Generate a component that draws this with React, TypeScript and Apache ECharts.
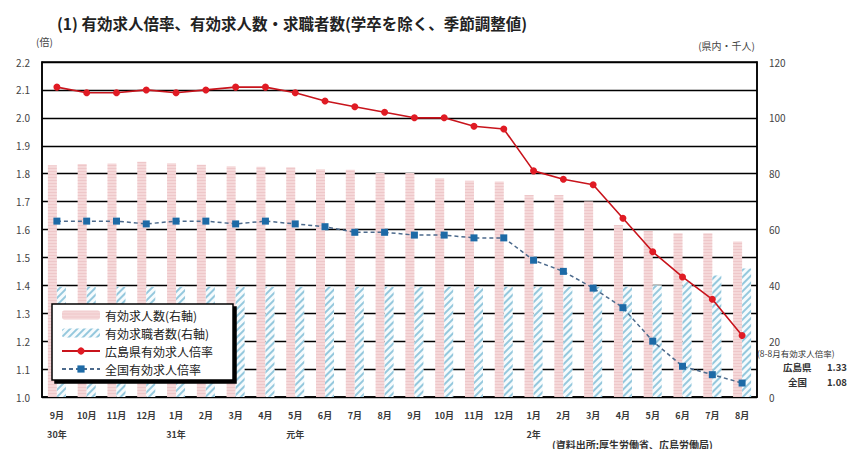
import React, { useEffect, useRef } from "react";
import * as echarts from "echarts";

// 月別の軸ラベル(30年9月〜2年8月)
const months = [
  "9月", "10月", "11月", "12月", "1月", "2月", "3月", "4月",
  "5月", "6月", "7月", "8月", "9月", "10月", "11月", "12月",
  "1月", "2月", "3月", "4月", "5月", "6月", "7月", "8月",
];
const years = [
  "30年", "", "", "", "31年", "", "", "", "元年", "", "", "", "", "", "", "",
  "2年", "", "", "", "", "", "", "",
];

// 有効求人数・有効求職者数(県内、千人)
const jobOffers = [
  83, 83.5, 83.6, 84.3, 83.7, 83.2, 82.7, 82.5, 82.3, 81.6, 81.4, 80.2,
  80.2, 78.4, 77.5, 77.2, 72.4, 72.4, 70, 61.6, 59.5, 58.7, 58.7, 55.7,
];
const jobSeekers = [
  39.5, 39.5, 39.5, 39.5, 39.5, 39.5, 39.5, 39.5, 39.5, 39.5, 39.5, 39.5,
  39.5, 39.5, 39.5, 39.5, 39.5, 39.5, 39.5, 39.5, 40, 41.5, 43.5, 46,
];

// 有効求人倍率(倍)
const hiroshimaRatio = [
  2.11, 2.09, 2.09, 2.1, 2.09, 2.1, 2.11, 2.11, 2.09, 2.06, 2.04, 2.02,
  2.0, 2.0, 1.97, 1.96, 1.81, 1.78, 1.76, 1.64, 1.52, 1.43, 1.35, 1.22,
];
const nationalRatio = [
  1.63, 1.63, 1.63, 1.62, 1.63, 1.63, 1.62, 1.63, 1.62, 1.61, 1.59, 1.59,
  1.58, 1.58, 1.57, 1.57, 1.49, 1.45, 1.39, 1.32, 1.2, 1.11, 1.08, 1.05,
];

// 8月の有効求人倍率(注記)
const noteRegions = ["広島県", "全国"];
const noteValues = ["1.33", "1.08"];

const FONT = '"Noto Sans CJK JP", "Noto Sans", sans-serif';

export default function App() {
  const ref = useRef<HTMLDivElement>(null);

  useEffect(() => {
    if (!ref.current) return;
    const chart = echarts.init(ref.current, undefined, { renderer: "svg" });

    const noteTexts: any[] = [];
    noteRegions.forEach((name, i) => {
      noteTexts.push({
        type: "text",
        left: i === 0 ? 783 : 788,
        top: 362 + i * 15,
        style: { text: name, font: `bold 9.5px ${FONT}`, fill: "#333" },
      });
      noteTexts.push({
        type: "text",
        left: 827,
        top: 362 + i * 15,
        style: { text: noteValues[i], font: `bold 9.5px ${FONT}`, fill: "#333" },
      });
    });

    chart.setOption({
      animation: false,
      backgroundColor: "#ffffff",
      textStyle: { fontFamily: FONT },
      title: {
        text: "(1) 有効求人倍率、有効求人数・求職者数(学卒を除く、季節調整値)",
        left: 52,
        top: 10,
        textStyle: { fontFamily: FONT, fontSize: 15.5, fontWeight: "bold", color: "#222" },
      },
      grid: {
        left: 42,
        right: 98,
        top: 62,
        bottom: 60,
        show: true,
        borderColor: "#000",
        borderWidth: 1.5,
        backgroundColor: "transparent",
      },
      legend: {
        orient: "vertical",
        left: 52,
        top: 304,
        width: 188,
        itemWidth: 38,
        itemHeight: 9,
        itemGap: 6,
        padding: [5, 20, 5, 9],
        backgroundColor: "#fff",
        borderColor: "#000",
        borderWidth: 1.5,
        shadowColor: "#000",
        shadowOffsetX: 3,
        shadowOffsetY: 3,
        shadowBlur: 0,
        textStyle: { fontFamily: FONT, fontSize: 12, color: "#222" },
        data: ["有効求人数(右軸)", "有効求職者数(右軸)", "広島県有効求人倍率", "全国有効求人倍率"],
      },
      xAxis: {
        type: "category",
        data: months,
        axisLine: { show: true, lineStyle: { color: "#000", width: 1.5 } },
        axisTick: { show: false },
        axisLabel: {
          interval: 0,
          margin: 9,
          fontSize: 9,
          fontWeight: "bold",
          color: "#3a3a3a",
          lineHeight: 19,
          formatter: (v: string, i: number) => `${v}\n${years[i]}`,
        },
      },
      yAxis: [
        {
          type: "value",
          min: 1.0,
          max: 2.2,
          interval: 0.1,
          axisLine: { show: true, lineStyle: { color: "#000", width: 1.5 } },
          axisTick: { show: false },
          axisLabel: {
            margin: 12,
            fontSize: 10,
            color: "#444",
            formatter: (v: number) => v.toFixed(1),
          },
          splitLine: { show: true, lineStyle: { color: "#000", width: 1.4 } },
        },
        {
          type: "value",
          min: 0,
          max: 120,
          interval: 20,
          position: "right",
          axisLine: { show: true, lineStyle: { color: "#000", width: 1.5 } },
          axisTick: { show: false },
          axisLabel: { margin: 12, fontSize: 10, color: "#444" },
          splitLine: { show: false },
        },
      ],
      series: [
        {
          name: "有効求人数(右軸)",
          type: "bar",
          yAxisIndex: 1,
          data: jobOffers,
          barWidth: 9,
          barGap: "0%",
          itemStyle: {
            color: "#f5d8d9",
            decal: {
              symbol: "rect",
              symbolSize: 1,
              color: "rgba(225,165,170,0.35)",
              dashArrayX: [1, 0],
              dashArrayY: [1, 2],
              rotation: 0,
            },
          },
          z: 2,
        },
        {
          name: "有効求職者数(右軸)",
          type: "bar",
          yAxisIndex: 1,
          data: jobSeekers,
          barWidth: 9,
          barGap: "0%",
          itemStyle: {
            color: "#f6fbfd",
            decal: {
              symbol: "rect",
              symbolSize: 1,
              color: "#95c8dd",
              dashArrayX: [1, 0],
              dashArrayY: [1.5, 3],
              rotation: -Math.PI / 4,
            },
          },
          z: 2,
        },
        {
          name: "広島県有効求人倍率",
          type: "line",
          yAxisIndex: 0,
          data: hiroshimaRatio,
          symbol: "circle",
          symbolSize: 7,
          lineStyle: { color: "#c8141c", width: 1.6 },
          itemStyle: { color: "#e01b24" },
          z: 5,
        },
        {
          name: "全国有効求人倍率",
          type: "line",
          yAxisIndex: 0,
          data: nationalRatio,
          symbol: "rect",
          symbolSize: 7,
          lineStyle: { color: "#4c6a8c", width: 1.5, type: [4, 3] },
          itemStyle: { color: "#1d6aa6" },
          z: 5,
        },
      ],
      graphic: [
        { type: "text", left: 36, top: 36, style: { text: "(倍)", font: `10px ${FONT}`, fill: "#444" } },
        { type: "text", right: 100, top: 40, style: { text: "(県内・千人)", font: `10px ${FONT}`, fill: "#444" } },
        { type: "text", left: 757, top: 349, style: { text: "(8-8月有効求人倍率)", font: `8.5px ${FONT}`, fill: "#333" } },
        ...noteTexts,
        { type: "text", left: 552, top: 439, style: { text: "(資料出所:厚生労働省、広島労働局)", font: `bold 10px ${FONT}`, fill: "#333" } },
      ],
    });
    return () => chart.dispose();
  }, []);

  return <div ref={ref} style={{ width: 855, height: 457, margin: -8 }} />;
}
